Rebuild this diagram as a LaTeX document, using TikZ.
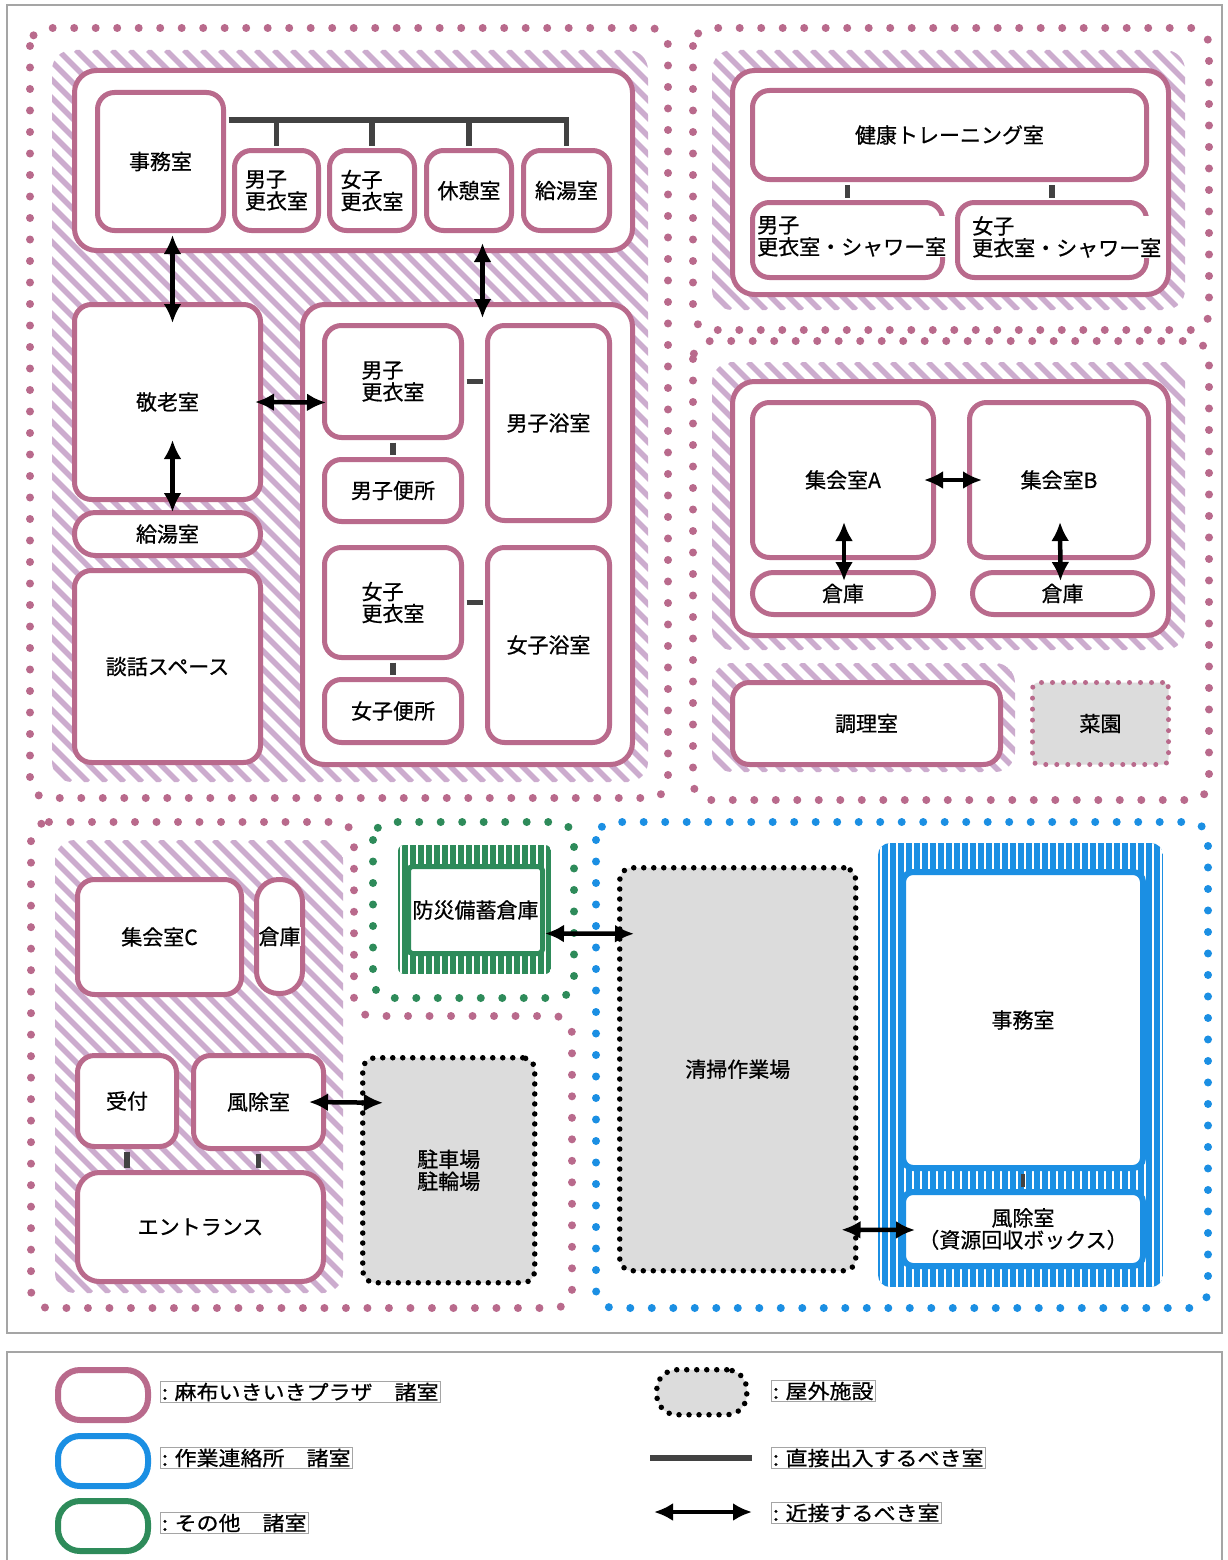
\documentclass[tikz,border=0pt]{standalone}
\usepackage{graphicx}
\usepackage{fontspec}
\setmainfont{Noto Sans CJK JP}[FakeBold=0.7]
\usetikzlibrary{arrows.meta}
\definecolor{pinkc}{RGB}{185,106,140}
\definecolor{hatchc}{RGB}{204,172,206}
\definecolor{bluec}{RGB}{27,143,227}
\definecolor{greenc}{RGB}{46,139,90}
\definecolor{connc}{RGB}{66,66,66}
\definecolor{framec}{RGB}{165,165,165}
\definecolor{grayfill}{RGB}{220,220,220}
\newcommand\mainfs{\fontsize{21}{22}\selectfont}
\newcommand\legfs{\fontsize{20}{22}\selectfont}
\tikzset{
  room/.style={draw=pinkc, line width=5pt, fill=white, rounded corners=17pt, inner sep=0pt, align=center, font=\mainfs},
  bigroom/.style={room, rounded corners=22pt},
  pill/.style={room, rounded corners=21pt},
  blueroom/.style={draw=bluec, line width=6pt, fill=white, rounded corners=10pt, inner sep=0pt, align=center, font=\mainfs},
  greenroom/.style={draw=greenc, line width=5pt, fill=white, rounded corners=4pt, inner sep=0pt, align=center, font=\mainfs},
  outdoor/.style={fill=grayfill, draw=black, line width=5.5pt, dash pattern=on 0pt off 10pt, line cap=round, rounded corners=12pt, inner sep=0pt, align=center, font=\mainfs},
  garden/.style={outdoor, draw=pinkc, line width=5pt, dash pattern=on 0pt off 11pt, rounded corners=6pt},
  zone/.style={line width=8pt, dash pattern=on 0pt off 21.5pt, line cap=round, rounded corners=18pt},
  conn/.style={draw=connc, line width=5.5pt, shorten <=2.5pt, shorten >=2.5pt},
  biarrow/.style={draw=black, line width=4.5pt, >={Latex[length=19pt,width=18pt]}, <->},
  hatchline/.style={draw=hatchc, line width=5.5pt},
  lgtext/.style={draw=framec, line width=0.8pt, inner sep=1.5pt, font=\legfs, anchor=west, fill=white},
  ovtext/.style={font=\mainfs, fill=white, inner sep=0pt, align=left, anchor=north west},
}
\newcommand\roombox[7]{\node[#1, anchor=north west, minimum width={(#5)-(#3)}, minimum height={(#6)-(#4)}] (#2) at (#3,#4) {#7};}
\newcommand\hatchzone[4]{%
  \begin{scope}
    \clip[rounded corners=20pt] (#1,#2) rectangle (#3,#4);
    \pgfmathsetmacro\hh{(#4)-(#2)}
    \pgfmathsetmacro\hst{(#1)-\hh}
    \pgfmathsetmacro\hnx{\hst+18}
    \foreach \xx in {\hst,\hnx,...,#3} \draw[hatchline] (\xx,#2) -- ++(\hh,\hh);
  \end{scope}}
\newcommand\stripezone[6]{%
  \begin{scope}
    \clip[rounded corners=#6] (#2,#3) rectangle (#4,#5);
    \fill[#1] (#2,#3) rectangle (#4,#5);
    \pgfmathsetmacro\sst{(#2)+3}
    \pgfmathsetmacro\snx{(#2)+11}
    \foreach \xx in {\sst,\snx,...,#4} \draw[white, line width=2.5pt] (\xx,#3) -- (\xx,#5);
  \end{scope}}
\begin{document}
\begin{tikzpicture}[x=1pt,y=-1pt]
\useasboundingbox (0,0) rectangle (1228,1560);
\fill[white] (0,0) rectangle (1228,1560);
% frames
\draw[framec, line width=1.5pt] (7,5) rectangle (1222,1333);
\draw[framec, line width=1.5pt] (7,1560) -- (7,1352) -- (1222,1352) -- (1222,1560);
% dotted zones
\draw[zone, draw=pinkc] (30,28) rectangle (668,798);
\draw[zone, draw=pinkc] (693,28) rectangle (1209,330);
\draw[zone, draw=pinkc] (693,341) rectangle (1209,800);
\draw[zone, draw=pinkc] (31,822) -- (354,822) -- (354,1016) -- (572,1016) -- (572,1308) -- (31,1308) -- cycle;
\draw[zone, draw=greenc] (373,822) rectangle (574,998);
\draw[zone, draw=bluec] (596,822) rectangle (1208,1308);

% ===== top-left =====
\hatchzone{52}{50}{648}{782}
\roombox{bigroom}{topc}{72}{68}{630}{248}{}
\roombox{bigroom}{bathc}{300}{302}{630}{762}{}
\roombox{room}{jimu}{95}{90}{221}{228}{事務室}
\roombox{room, align=left}{mkoui}{232}{148}{316}{228}{男子\\更衣室}
\roombox{room, align=left}{fkoui}{327}{148}{412}{228}{女子\\更衣室}
\roombox{room}{kyukei}{424}{148}{509}{228}{休憩室}
\roombox{room}{kyuto}{521}{148}{607}{228}{給湯室}
\roombox{room}{keiro}{72}{302}{258}{497}{敬老室}
\roombox{pill}{kyutoL}{72}{510}{258}{553}{給湯室}
\roombox{room}{danwa}{72}{568}{258}{760}{談話スペース}
\roombox{room, align=left}{bm1}{322}{323}{459}{435}{男子\\更衣室}
\roombox{room}{bmt}{322}{457}{459}{519}{男子便所}
\roombox{room}{mbath}{485}{323}{607}{518}{男子浴室}
\roombox{room, align=left}{bf1}{322}{545}{459}{655}{女子\\更衣室}
\roombox{room}{bft}{322}{677}{459}{740}{女子便所}
\roombox{room}{fbath}{485}{545}{607}{740}{女子浴室}
\coordinate (barY) at (0,120);
\draw[conn] (jimu.east |- barY) -| (kyuto.north);
\draw[conn] (mkoui.north |- barY) -- (mkoui.north);
\draw[conn] (fkoui.north |- barY) -- (fkoui.north);
\draw[conn] (kyukei.north |- barY) -- (kyukei.north);
\draw[conn] (bm1.south) -- (bm1.south |- bmt.north);
\draw[conn] (bm1.east) -- (bm1.east -| mbath.west);
\draw[conn] (bf1.south) -- (bf1.south |- bft.north);
\draw[conn] (bf1.east) -- (bf1.east -| fbath.west);

% ===== top-right =====
\hatchzone{712}{50}{1185}{310}
\roombox{bigroom}{trc}{730}{68}{1166}{292}{}
\roombox{room}{kenko}{750}{88}{1144}{177}{健康トレーニング室}
\roombox{room}{msh}{750}{200}{940}{275}{}
\roombox{room}{fsh}{955}{200}{1144}{275}{}
\node[ovtext] (msht) at (757,216) {男子\\更衣室・シャワー室};
\node[ovtext] (fsht) at (972,216) {女子\\更衣室・シャワー室};
\draw[conn] (msh.north) -- (msh.north |- kenko.south);
\draw[conn] (fsh.north) -- (fsh.north |- kenko.south);

\hatchzone{712}{362}{1185}{650}
\roombox{bigroom}{lrc}{730}{379}{1166}{633}{}
\roombox{room}{shuA}{750}{400}{931}{555}{集会室A}
\roombox{room}{shuB}{967}{400}{1146}{555}{集会室B}
\roombox{pill}{sokoA}{750}{570}{931}{612}{倉庫}
\roombox{pill}{sokoB}{970}{570}{1150}{612}{倉庫}
\hatchzone{712}{663}{1015}{772}
\roombox{room}{chori}{730}{680}{998}{762}{調理室}
\roombox{garden}{saien}{1030}{680}{1166}{762}{菜園}

% ===== bottom-left =====
\hatchzone{55}{840}{343}{1293}
\roombox{room}{shuC}{75}{877}{239}{992}{集会室C}
\roombox{bigroom}{sokoC}{254}{877}{300}{991}{}
\node[font=\mainfs, fill=white, inner sep=0pt] (sokoCt) at (sokoC.center) {倉庫};
\roombox{room}{uke}{75}{1053}{174}{1144}{受付}
\roombox{room}{fujo}{191}{1053}{321}{1146}{風除室}
\roombox{bigroom}{ent}{75}{1170}{321}{1279}{エントランス}
\draw[conn] (uke.south) -- (uke.south |- ent.north);
\draw[conn] (fujo.south) -- (fujo.south |- ent.north);
\roombox{outdoor}{parking}{360}{1055}{532}{1280}{駐車場\\駐輪場}

% ===== green =====
\stripezone{greenc}{398}{845}{551}{974}{6pt}
\roombox{greenroom}{bosai}{406}{864}{540}{951}{防災備蓄倉庫}

% ===== blue =====
\roombox{outdoor}{seiso}{617}{865}{853}{1268}{清掃作業場}
\stripezone{bluec}{878}{843}{1163}{1287}{12pt}
\roombox{blueroom}{jimu2}{900}{869}{1140}{1165}{事務室}
\roombox{blueroom}{fujo2}{900}{1189}{1140}{1263}{風除室\\（資源回収ボックス）}
\draw[conn, line width=4pt] (jimu2.south) -- (fujo2.north);

% ===== arrows =====
\draw[biarrow] ([xshift=12pt,yshift=-2pt]jimu.south) -- ([xshift=5pt,yshift=-21pt]keiro.north);
\draw[biarrow] ([xshift=129pt,yshift=10pt]topc.south) -- ([xshift=15pt,yshift=-16pt]bathc.north);
\draw[biarrow] ([xshift=5pt,yshift=62pt]keiro.south) -- ([xshift=5pt,yshift=-2pt]kyutoL.north);
\draw[biarrow] ([xshift=-8pt]keiro.east) -- ([xshift=4pt,yshift=-21pt]bm1.west);
\draw[biarrow] ([xshift=-12pt]shuA.east) -- ([xshift=15pt]shuB.west);
\draw[biarrow] ([xshift=1pt,yshift=38pt]shuA.south) -- ([xshift=1pt,yshift=-11pt]sokoA.north);
\draw[biarrow] ([xshift=1pt,yshift=38pt]shuB.south) -- ([xshift=-2pt,yshift=-11pt]sokoB.north);
\draw[biarrow] ([xshift=-17pt]fujo.east) -- ([xshift=23pt,yshift=67.5pt]parking.west);
\draw[biarrow] ([yshift=-23.5pt]bosai.east) -- ([xshift=17pt,yshift=135.5pt]seiso.west);
\draw[biarrow] ([xshift=-17pt,yshift=-160.5pt]seiso.east) -- ([xshift=15pt,yshift=-1pt]fujo2.west);

% ===== legend =====
\roombox{room, rounded corners=22pt, line width=6pt}{lg1}{55}{1367}{145}{1417}{}
\roombox{blueroom, rounded corners=22pt}{lg2}{55}{1433}{145}{1483}{}
\roombox{greenroom, rounded corners=22pt, line width=6pt}{lg3}{55}{1498}{145}{1548}{}
\node[lgtext] (lt1) at (160,1392) {\scalebox{1.1}[1]{: 麻布いきいきプラザ　諸室}};
\node[lgtext] (lt2) at (160,1458) {\scalebox{1.1}[1]{: 作業連絡所　諸室}};
\node[lgtext] (lt3) at (160,1523) {\scalebox{1.1}[1]{: その他　諸室}};
\roombox{outdoor, rounded corners=20pt}{lg4}{654}{1367}{744}{1412}{}
\coordinate (l5a) at (650,1458);
\coordinate (l5b) at (752,1458);
\draw[draw=connc, line width=6pt] (l5a) -- (l5b);
\coordinate (l6a) at (654,1512);
\coordinate (l6b) at (752,1512);
\draw[biarrow] (l6a) -- (l6b);
\node[lgtext] (lt4) at (771,1391) {\scalebox{1.1}[1]{: 屋外施設}};
\node[lgtext] (lt5) at (771,1458) {\scalebox{1.1}[1]{: 直接出入するべき室}};
\node[lgtext] (lt6) at (771,1513) {\scalebox{1.1}[1]{: 近接するべき室}};
\end{tikzpicture}
\end{document}
